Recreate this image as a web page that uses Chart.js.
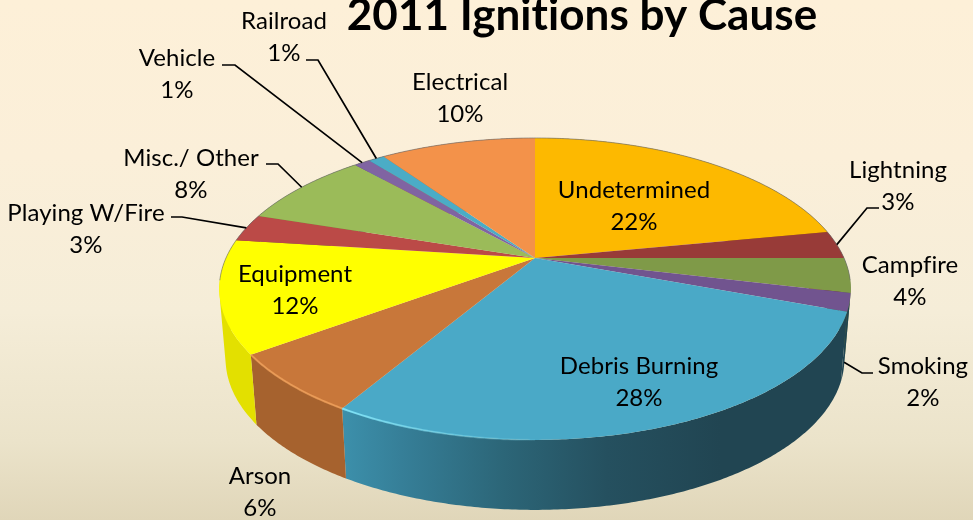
<!DOCTYPE html>
<html>
<head>
<meta charset="utf-8">
<title>2011 Ignitions by Cause</title>
<script src="https://cdn.jsdelivr.net/npm/chart.js@4"></script>
<style>
html,body{margin:0;padding:0;width:973px;height:520px;overflow:hidden}
body{background:linear-gradient(180deg,#fdf0d8 0%,#fbefd9 30%,#f5edd8 60%,#ebe3ca 85%,#e0d6b9 100%)}
canvas{display:block}
</style>
</head>
<body>
<canvas id="pie" width="973" height="520"></canvas>
<script>
// DATA (slice sizes, labels show them rounded)
const causes = ['Undetermined','Lightning','Campfire','Smoking','Debris Burning','Arson','Equipment','Playing W/Fire','Misc./ Other','Vehicle','Railroad','Electrical'];
const percents = [22,3,3.7,1.9,28,6.4,12,3,8.3,1,1,9.7];

// COLOURS
const topColors = ['#fdb900','#983b38','#7f9a48','#71548f','#4aa9c7','#c8773a','#ffff00','#bb4a47','#9bbb59','#8064a2','#4bacc6','#f3924a'];
const sideColors = ['#b88600','#6e2b28','#5c7034','#214552','#2c6678','#a6622e','#e3e000','#8a3634','#71883f','#5d4876','#36809a','#b56a32'];

// projected disc: apex, radius, squash, perspective, thickness
const cx = 535, cy = 258, R = 309, squash = 0.468, persp = 0.205, depth = 70, shrink = 0.98;

// label layout [x, first line y, elbow points leading to the rim], index matches causes
const labels = [
  {x:634,y:190},
  {x:898,y:170,line:[[879,208],[867,208]]},
  {x:910,y:265},
  {x:923,y:366,line:[[873,373],[862,373]],onSide:60},
  {x:639,y:366},
  {x:260,y:476},
  {x:295,y:274},
  {x:86,y:213,line:[[171,217],[182,217]]},
  {x:191,y:158,line:[[266,164],[278,164]]},
  {x:177,y:58,line:[[222,65],[235,65]]},
  {x:284,y:21,line:[[306,60],[318,60]]},
  {x:460,y:82}
];

// circle angle -> screen, h is how far down the side wall
function project(a, h){
  const X = Math.cos(a), Y = Math.sin(a), w = 1 - persp * Y;
  const k = h ? 1 - (1 - shrink) * h / depth : 1;
  return [cx + k * R * X / w, cy + h + R * squash * Y / w];
}

function rimPoints(a0, a1, h){
  const pts = [], n = Math.max(2, Math.ceil((a1 - a0) / 0.01));
  for(let i = 0; i <= n; i++){
    pts.push(project(a0 + (a1 - a0) * i / n, h));
  }
  return pts;
}

function trace(ctx, pts){
  pts.forEach((p,i) => i ? ctx.lineTo(p[0],p[1]) : ctx.moveTo(p[0],p[1]));
}

function area(q){
  let s = 0;
  q.forEach((p,i) => {
    const n = q[(i + 1) % q.length];
    s += p[0] * n[1] - n[0] * p[1];
  });
  return s;
}

const pie3d = {
  id:'pie3d',
  beforeDatasetsDraw(chart){
    const ctx = chart.ctx;
    const arcs = chart.getDatasetMeta(0).data;
    ctx.save();

    // side wall: quads wound the same way in one path, so no seams and the silhouette stays filled
    arcs.forEach((arc,i) => {
      const top = rimPoints(arc.startAngle, arc.endAngle, 0);
      const bottom = rimPoints(arc.startAngle, arc.endAngle, depth);
      let fill = sideColors[i];
      if(causes[i] === 'Debris Burning'){
        fill = ctx.createLinearGradient(345,0,720,0);
        fill.addColorStop(0,'#3c8faa');
        fill.addColorStop(0.15,'#367f98');
        fill.addColorStop(0.42,'#2c6678');
        fill.addColorStop(0.7,'#25505f');
        fill.addColorStop(1,'#214552');
      }
      ctx.beginPath();
      for(let j = 0; j < top.length - 1; j++){
        const q = [top[j],top[j+1],bottom[j+1],bottom[j]];
        if(area(q) < 0) q.reverse();
        trace(ctx, q);
        ctx.closePath();
      }
      ctx.fillStyle = fill;
      ctx.fill();
    });

    // top face
    arcs.forEach((arc,i) => {
      ctx.beginPath();
      ctx.moveTo(cx,cy);
      rimPoints(arc.startAngle, arc.endAngle, 0).forEach(p => ctx.lineTo(p[0],p[1]));
      ctx.closePath();
      ctx.fillStyle = arc.options.backgroundColor;
      ctx.fill();
    });

    // thin grey outline on the far rim, lit edge on the near one
    ctx.beginPath();
    trace(ctx, rimPoints(Math.PI - 0.15, 2 * Math.PI + 0.15, 0));
    ctx.strokeStyle = 'rgba(110,110,110,0.65)';
    ctx.lineWidth = 1;
    ctx.stroke();

    arcs.forEach((arc,i) => {
      if(causes[i] !== 'Debris Burning' && causes[i] !== 'Arson') return;
      const isArson = causes[i] === 'Arson';
      const from = isArson ? arc.startAngle : Math.PI * 0.5;
      let edge = 'rgba(240,160,90,0.8)';
      if(!isArson){
        edge = ctx.createLinearGradient(345,0,560,0);
        edge.addColorStop(0,'rgba(130,230,250,0.9)');
        edge.addColorStop(1,'rgba(130,230,250,0)');
      }
      ctx.beginPath();
      trace(ctx, rimPoints(from, arc.endAngle, 0));
      ctx.strokeStyle = edge;
      ctx.lineWidth = 2;
      ctx.stroke();
    });

    ctx.restore();
    return false;
  },
  afterDraw(chart){
    const ctx = chart.ctx;
    const arcs = chart.getDatasetMeta(0).data;
    ctx.save();

    // leader lines
    ctx.strokeStyle = '#000';
    ctx.lineWidth = 1.7;
    arcs.forEach((arc,i) => {
      const lab = labels[i];
      if(!lab.line) return;
      const end = project((arc.startAngle + arc.endAngle) / 2, lab.onSide || 0);
      ctx.beginPath();
      trace(ctx, lab.line.concat([end]));
      ctx.stroke();
    });

    // data labels
    ctx.fillStyle = '#000';
    ctx.textAlign = 'center';
    ctx.textBaseline = 'middle';
    ctx.font = '24px Lato, "Open Sans", sans-serif';
    ctx.letterSpacing = '0.05px';
    causes.forEach((name,i) => {
      ctx.fillText(name, labels[i].x, labels[i].y);
      ctx.fillText(Math.round(percents[i]) + '%', labels[i].x, labels[i].y + 32);
    });

    // title, cut by the top edge as in the slide
    ctx.font = 'bold 44px Lato, "Open Sans", sans-serif';
    ctx.fillText('2011 Ignitions by Cause', 582, 16);
    ctx.restore();
  }
};

const ctx = document.getElementById('pie');

new Chart(ctx, {
  type: 'pie',
  data: {
    labels: causes,
    datasets: [{
      data: percents,
      backgroundColor: topColors,
      borderWidth: 0
    }]
  },
  options: {
    responsive: false,
    animation: false,
    events: [],
    plugins: {
      legend: {display:false},
      tooltip: {enabled:false}
    }
  },
  plugins: [pie3d]
});
</script>
</body>
</html>
